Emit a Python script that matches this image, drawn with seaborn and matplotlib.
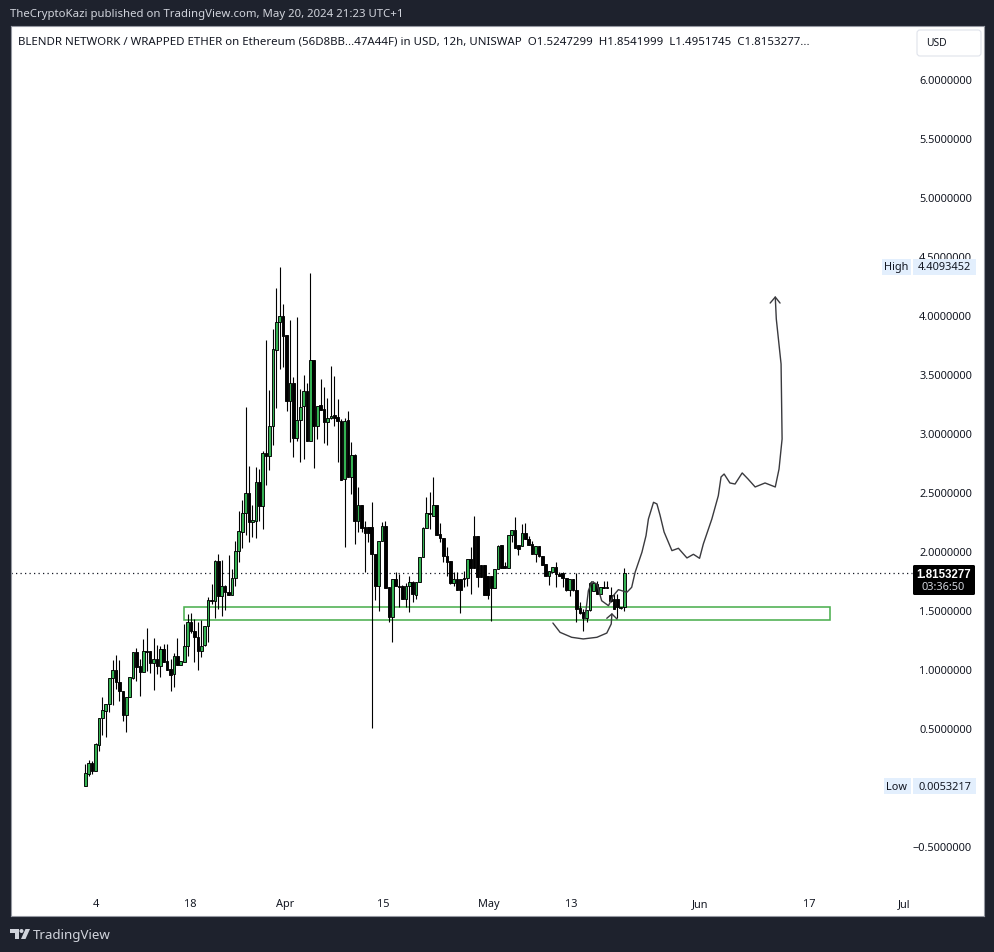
"""
BLENDR / WETH 12h candles with hand drawn projection, TradingView style.
"""
import matplotlib
matplotlib.use('Agg')
import numpy as np
import pandas as pd
import matplotlib.pyplot as plt
import seaborn as sns
from matplotlib.patches import Circle, FancyBboxPatch, Polygon, Rectangle
from matplotlib.transforms import blended_transform_factory

# OHLC, one value per 12h candle
opens = [
    .005, .108, .199, .137, .357, .580, .645, .699, .920, .990,
    .886, .809, .611, .758, .925, 1.140, 1.021, .971, 1.149, 1.149,
    1.047, 1.084, 1.027, 1.166, 1.067, .996, .953, 1.106, 1.036, 1.061,
    1.191, 1.395, 1.318, 1.267, 1.149, 1.200, 1.361, 1.581, 1.573, 1.912,
    1.621, 1.700, 1.649, 1.629, 1.768, 2.002, 2.163, 2.319, 2.489, 2.243,
    2.257, 2.582, 2.384, 2.828, 2.802, 3.063, 3.707, 3.939, 3.990, 3.829,
    3.275, 3.422, 2.955, 3.108, 3.227, 3.354, 2.935, 3.617, 3.057, 3.235,
    3.201, 3.091, 3.125, 3.153, 3.133, 3.099, 2.607, 3.108, 2.630, 2.811,
    2.257, 2.387, 2.200, 2.200, 2.200, 1.977, 1.706, 2.082, 2.209, 1.691,
    1.443, 1.759, 1.700, 1.706, 1.593, 1.706, 1.734, 1.629, 1.734, 1.946,
    2.192, 2.319, 2.299, 2.387, 2.141, 2.107, 1.954, 1.915, 1.725, 1.759,
    1.759, 1.768, 1.768, 1.932, 2.124, 2.124, 1.881, 1.881, 1.790, 1.790,
    1.683, 1.847, 2.051, 1.870, 1.853, 2.133, 2.178, 2.051, 2.045, 2.150,
    2.101, 2.056, 1.974, 2.042, 1.954, 1.887, 1.790, 1.824, 1.861, 1.807,
    1.813, 1.773, 1.672, 1.762, 1.672, 1.513, 1.479, 1.429, 1.499, 1.663,
    1.720, 1.635, 1.691, 1.691, 1.626, 1.593, 1.593, 1.513, 1.5247,
]
highs = [
    .193, .227, .216, .371, .583, .764, .702, .922, 1.075, 1.118,
    1.075, .809, .758, .928, 1.146, 1.174, 1.084, 1.253, 1.346, 1.149,
    1.261, 1.202, 1.197, 1.211, 1.211, 1.084, 1.132, 1.261, 1.064, 1.380,
    1.465, 1.474, 1.423, 1.395, 1.414, 1.361, 1.607, 1.720, 1.926, 1.974,
    1.926, 1.714, 1.966, 1.847, 2.087, 2.336, 2.432, 3.218, 2.718, 2.390,
    2.709, 2.695, 2.851, 3.789, 3.365, 3.882, 4.230, 4.406, 4.094, 3.829,
    3.959, 3.472, 3.981, 3.374, 3.492, 3.422, 4.357, 3.617, 3.232, 3.458,
    3.388, 3.297, 3.569, 3.487, 3.289, 3.119, 3.125, 3.184, 2.921, 2.822,
    2.545, 2.387, 2.257, 2.200, 2.418, 1.977, 2.082, 2.243, 2.251, 1.691,
    1.759, 1.824, 1.805, 1.711, 1.728, 1.790, 1.748, 1.734, 1.946, 2.200,
    2.461, 2.497, 2.624, 2.387, 2.237, 2.107, 2.031, 1.915, 1.819, 1.819,
    1.759, 1.833, 1.932, 2.031, 2.297, 2.124, 1.881, 1.881, 1.790, 1.790,
    1.847, 2.051, 2.051, 1.904, 2.133, 2.178, 2.285, 2.051, 2.229, 2.237,
    2.130, 2.087, 2.042, 2.042, 1.954, 1.887, 1.827, 1.861, 1.909, 1.824,
    1.819, 1.773, 1.762, 1.762, 1.813, 1.564, 1.508, 1.499, 1.739, 1.748,
    1.748, 1.691, 1.748, 1.748, 1.691, 1.635, 1.635, 1.522, 1.8542,
]
lows = [
    .005, .094, .108, .137, .306, .442, .425, .637, .696, .829,
    .730, .561, .467, .758, .914, .900, .773, .971, .985, .965,
    .823, .956, .934, 1.061, .993, .815, .843, 1.036, 1.036, 1.061,
    1.112, 1.301, 1.061, .993, 1.103, 1.197, 1.225, 1.550, 1.434, 1.508,
    1.451, 1.502, 1.629, 1.629, 1.706, 1.903, 2.025, 2.138, 2.073, 2.115,
    2.113, 2.257, 2.186, 2.562, 2.689, 2.901, 3.210, 3.543, 3.563, 3.190,
    2.927, 2.800, 2.935, 2.757, 2.780, 2.930, 2.935, 2.706, 2.949, 3.195,
    2.916, 2.901, 3.119, 3.063, 2.754, 2.604, 2.031, 2.630, 2.483, 2.059,
    2.163, 2.158, 1.824, 2.073, .500, 1.587, 1.494, 2.082, 1.686, 1.400,
    1.225, 1.703, 1.522, 1.593, 1.522, 1.485, 1.564, 1.593, 1.734, 1.946,
    2.192, 2.186, 2.299, 2.138, 2.073, 1.904, 1.790, 1.720, 1.706, 1.672,
    1.471, 1.691, 1.706, 1.635, 1.853, 1.691, 1.776, 1.629, 1.593, 1.409,
    1.683, 1.847, 1.858, 1.853, 1.853, 2.073, 2.022, 1.966, 2.045, 2.101,
    2.051, 1.977, 1.909, 1.946, 1.881, 1.790, 1.711, 1.819, 1.691, 1.790,
    1.691, 1.663, 1.621, 1.663, 1.394, 1.465, 1.324, 1.400, 1.494, 1.663,
    1.635, 1.635, 1.683, 1.683, 1.564, 1.507, 1.429, 1.507, 1.4952,
]
closes = [
    .117, .199, .137, .363, .583, .651, .702, .922, .990, .886,
    .809, .611, .758, .928, 1.140, 1.019, .971, 1.149, 1.147, 1.047,
    1.084, 1.027, 1.166, 1.061, .993, .951, 1.106, 1.036, 1.064, 1.191,
    1.395, 1.318, 1.267, 1.149, 1.197, 1.361, 1.581, 1.573, 1.912, 1.621,
    1.700, 1.649, 1.629, 1.768, 2.002, 2.166, 2.319, 2.489, 2.243, 2.260,
    2.582, 2.384, 2.828, 2.802, 3.063, 3.713, 3.939, 3.990, 3.826, 3.275,
    3.422, 2.955, 3.108, 3.224, 3.354, 2.935, 3.617, 3.057, 3.232, 3.195,
    3.091, 3.125, 3.147, 3.130, 3.099, 2.604, 3.105, 2.630, 2.811, 2.257,
    2.387, 2.195, 2.152, 2.152, 1.977, 1.706, 2.082, 2.209, 1.686, 1.443,
    1.759, 1.703, 1.697, 1.593, 1.706, 1.734, 1.632, 1.734, 1.946, 2.195,
    2.319, 2.313, 2.387, 2.138, 2.107, 1.954, 1.909, 1.725, 1.759, 1.672,
    1.672, 1.765, 1.932, 1.853, 1.853, 1.776, 1.776, 1.629, 1.629, 1.683,
    1.847, 2.042, 1.858, 1.853, 2.133, 2.178, 2.022, 2.017, 2.150, 2.101,
    2.051, 1.977, 2.042, 1.954, 1.881, 1.790, 1.827, 1.861, 1.804, 1.790,
    1.771, 1.672, 1.762, 1.672, 1.507, 1.473, 1.429, 1.499, 1.728, 1.728,
    1.635, 1.691, 1.683, 1.683, 1.578, 1.507, 1.522, 1.522, 1.8153,
]

# Axis ticks (x in candle numbers)
price_ticks = [-0.5, 0.5, 1.0, 1.5, 2.0, 2.5, 3.0, 3.5, 4.0, 4.5, 5.0, 5.5, 6.0]
date_ticks = [3.1, 30.7, 58.6, 87.3, 118.4, 142.4, 180.2, 212.2, 240.0]
date_labels = ['4', '18', 'Apr', '15', 'May', '13', 'Jun', '17', 'Jul']

# Hand drawn projection
path_x = [146.5, 147.5, 148.5, 150.0, 151.4, 153.4, 154.8, 156.3, 158.8, 160.2,
          161.2, 163.2, 164.4, 165.1, 166.6, 167.6, 168.5, 169.7, 172.0, 173.9,
          176.4, 178.3, 180.1, 181.2, 183.7, 185.6, 186.4, 187.3, 189.0, 190.5,
          192.6, 194.3, 196.4, 199.3, 202.3, 203.4, 204.3, 204.0, 202.6, 202.3]
path_y = [1.423, 1.663, 1.740, 1.720, 1.578, 1.536, 1.621, 1.672, 1.650, 1.692,
          1.819, 1.989, 2.130, 2.271, 2.413, 2.399, 2.305, 2.161, 2.003, 2.023,
          1.941, 1.972, 1.938, 2.059, 2.271, 2.469, 2.628, 2.653, 2.577, 2.568,
          2.662, 2.611, 2.543, 2.577, 2.543, 2.695, 2.950, 3.586, 3.968, 4.154]
path_head_x = [200.8, 202.3, 203.7]
path_head_y = [4.103, 4.154, 4.103]
arc_x = [137.1, 139.2, 142.6, 146.0, 150.0, 152.9, 154.2, 154.4]
arc_y = [1.389, 1.310, 1.268, 1.254, 1.268, 1.304, 1.381, 1.466]
arc_head_x = [152.9, 154.4, 155.9]
arc_head_y = [1.429, 1.466, 1.423]

# Support zone and price lines
zone_start, zone_end = 29.0, 218.3
zone_low, zone_high = 1.412, 1.5225
last_price = 1.8153277
high_price = 4.4093452
low_price = 0.0053217

BG = '#1e222d'
GREEN = '#34b152'
ZONE = '#4caf50'
TEXT = '#131722'
W, H = 995, 953

sns.set_theme(style='white')
plt.rcParams['font.family'] = ['Noto Sans', 'DejaVu Sans']

candles = pd.DataFrame({'open': opens, 'high': highs, 'low': lows, 'close': closes})
candles['n'] = np.arange(len(candles))
candles['up'] = candles['close'] > candles['open']

fig = plt.figure(figsize=(W / 100, H / 100), dpi=100, facecolor=BG)
ax = fig.add_axes([11 / W, 1 - 917 / H, 973 / W, 890 / H], facecolor='white')

# Candles
ax.vlines(candles['n'], candles['low'], candles['high'], color='black', lw=0.8, zorder=3)
body_low = candles[['open', 'close']].min(axis=1)
body_high = candles[['open', 'close']].max(axis=1)
ax.bar(candles['n'], (body_high - body_low).clip(lower=0.006), bottom=body_low, width=0.78,
       color=np.where(candles['up'], GREEN, 'black'), edgecolor='black', linewidth=0.65, zorder=4)

ax.add_patch(Rectangle((zone_start, zone_low), zone_end - zone_start, zone_high - zone_low,
                       fill=False, edgecolor=ZONE, linewidth=1.15, zorder=2))
ax.axhline(last_price, xmax=(912 - 11) / 973, color='#131722', lw=0.9, ls=(0, (1, 2.6)), zorder=1)

# Hand drawn lines
for xs, ys in [(path_x, path_y), (path_head_x, path_head_y), (arc_x, arc_y), (arc_head_x, arc_head_y)]:
    sns.lineplot(x=xs, y=ys, sort=False, estimator=None, color='#3a3a3e', lw=1.0, ax=ax, zorder=5,
                 solid_joinstyle='round', solid_capstyle='round')

ax.set_xlim(-21.79, 263.5)
ax.set_ylim(-1.096, 6.453)
ax.set_xlabel('')
ax.set_ylabel('')

ax.yaxis.tick_right()
ax.set_yticks(price_ticks)
ax.set_yticklabels([f'{t:.7f}'.replace('-', '\u2212') for t in price_ticks])
ax.tick_params(axis='y', length=0, pad=-8.6, labelsize=7.9, labelcolor=TEXT)
for label in ax.get_yticklabels():
    label.set_ha('right')
ax.set_xticks(date_ticks)
ax.set_xticklabels(date_labels)
ax.tick_params(axis='x', length=0, pad=-12.8, labelsize=7.9, labelcolor=TEXT)

for spine in ax.spines.values():
    spine.set_color('#9598a1')
    spine.set_linewidth(0.8)

# Price scale tags
trans = blended_transform_factory(ax.transAxes, ax.transData)
frac = lambda px: (px - 11) / 973
for name, value, left in [('High', high_price, 882), ('Low', low_price, 884)]:
    ax.add_patch(Rectangle((frac(left), value - 0.07), frac(976) - frac(left), 0.14, transform=trans,
                           facecolor='#e3effd', edgecolor='none', zorder=6))
    ax.add_patch(Rectangle((frac(911.5), value - 0.07), frac(912.8) - frac(911.5), 0.14, transform=trans,
                           facecolor='white', edgecolor='none', zorder=7))
    ax.text(frac(896.5), value, name, transform=trans, ha='center', va='center',
            fontsize=7.9, color=TEXT, zorder=8)
    ax.text(frac(971.5), value, f'{value:.7f}', transform=trans, ha='right', va='center',
            fontsize=7.9, color=TEXT, zorder=8)

# Chrome is drawn in pixel coordinates on a full figure overlay
over = fig.add_axes([0, 0, 1, 1], facecolor='none')
over.set_xlim(0, W)
over.set_ylim(H, 0)
over.set_axis_off()

over.text(10, 15, 'TheCryptoKazi published on TradingView.com, May 20, 2024 21:23 UTC+1',
          color='#d1d4dc', fontsize=8.2, va='center')
over.text(18, 42, 'BLENDR NETWORK / WRAPPED ETHER on Ethereum (56D8BB...47A44F) in USD, 12h, UNISWAP'
          '  O1.5247299  H1.8541999  L1.4951745  C1.8153277...', color=TEXT, fontsize=8.25, va='center')

over.add_patch(FancyBboxPatch((917, 31), 64, 26, boxstyle='round,pad=0,rounding_size=3',
                              facecolor='white', edgecolor='#e0e3eb', linewidth=0.8))
over.text(926, 44, 'USD', color=TEXT, fontsize=7.4, va='center')

over.add_patch(FancyBboxPatch((913, 566), 62, 30, boxstyle='round,pad=0,rounding_size=1.5',
                              facecolor='black', edgecolor='none'))
over.text(971, 575, f'{last_price:.7f}', color='white', fontsize=8.3, fontweight='bold',
          family=['Liberation Sans'], ha='right', va='center')
over.text(921, 588, '03:36:50', color='#d1d4dc', fontsize=7.9, va='center')

# TradingView logo
over.add_patch(Polygon([(10, 930), (18.5, 930), (18.5, 940), (14.5, 940), (14.5, 934), (10, 934)],
                       facecolor='#d1d4dc', edgecolor='none'))
over.add_patch(Circle((21.5, 932), 2, facecolor='#d1d4dc', edgecolor='none'))
over.add_patch(Polygon([(25.5, 930), (30, 930), (25.5, 940), (21, 940)], facecolor='#d1d4dc', edgecolor='none'))
over.text(33, 936, 'TradingView', color='#d1d4dc', fontsize=9.6, va='center')

fig.savefig('out.png', dpi=100, facecolor=BG)
plt.close(fig)
